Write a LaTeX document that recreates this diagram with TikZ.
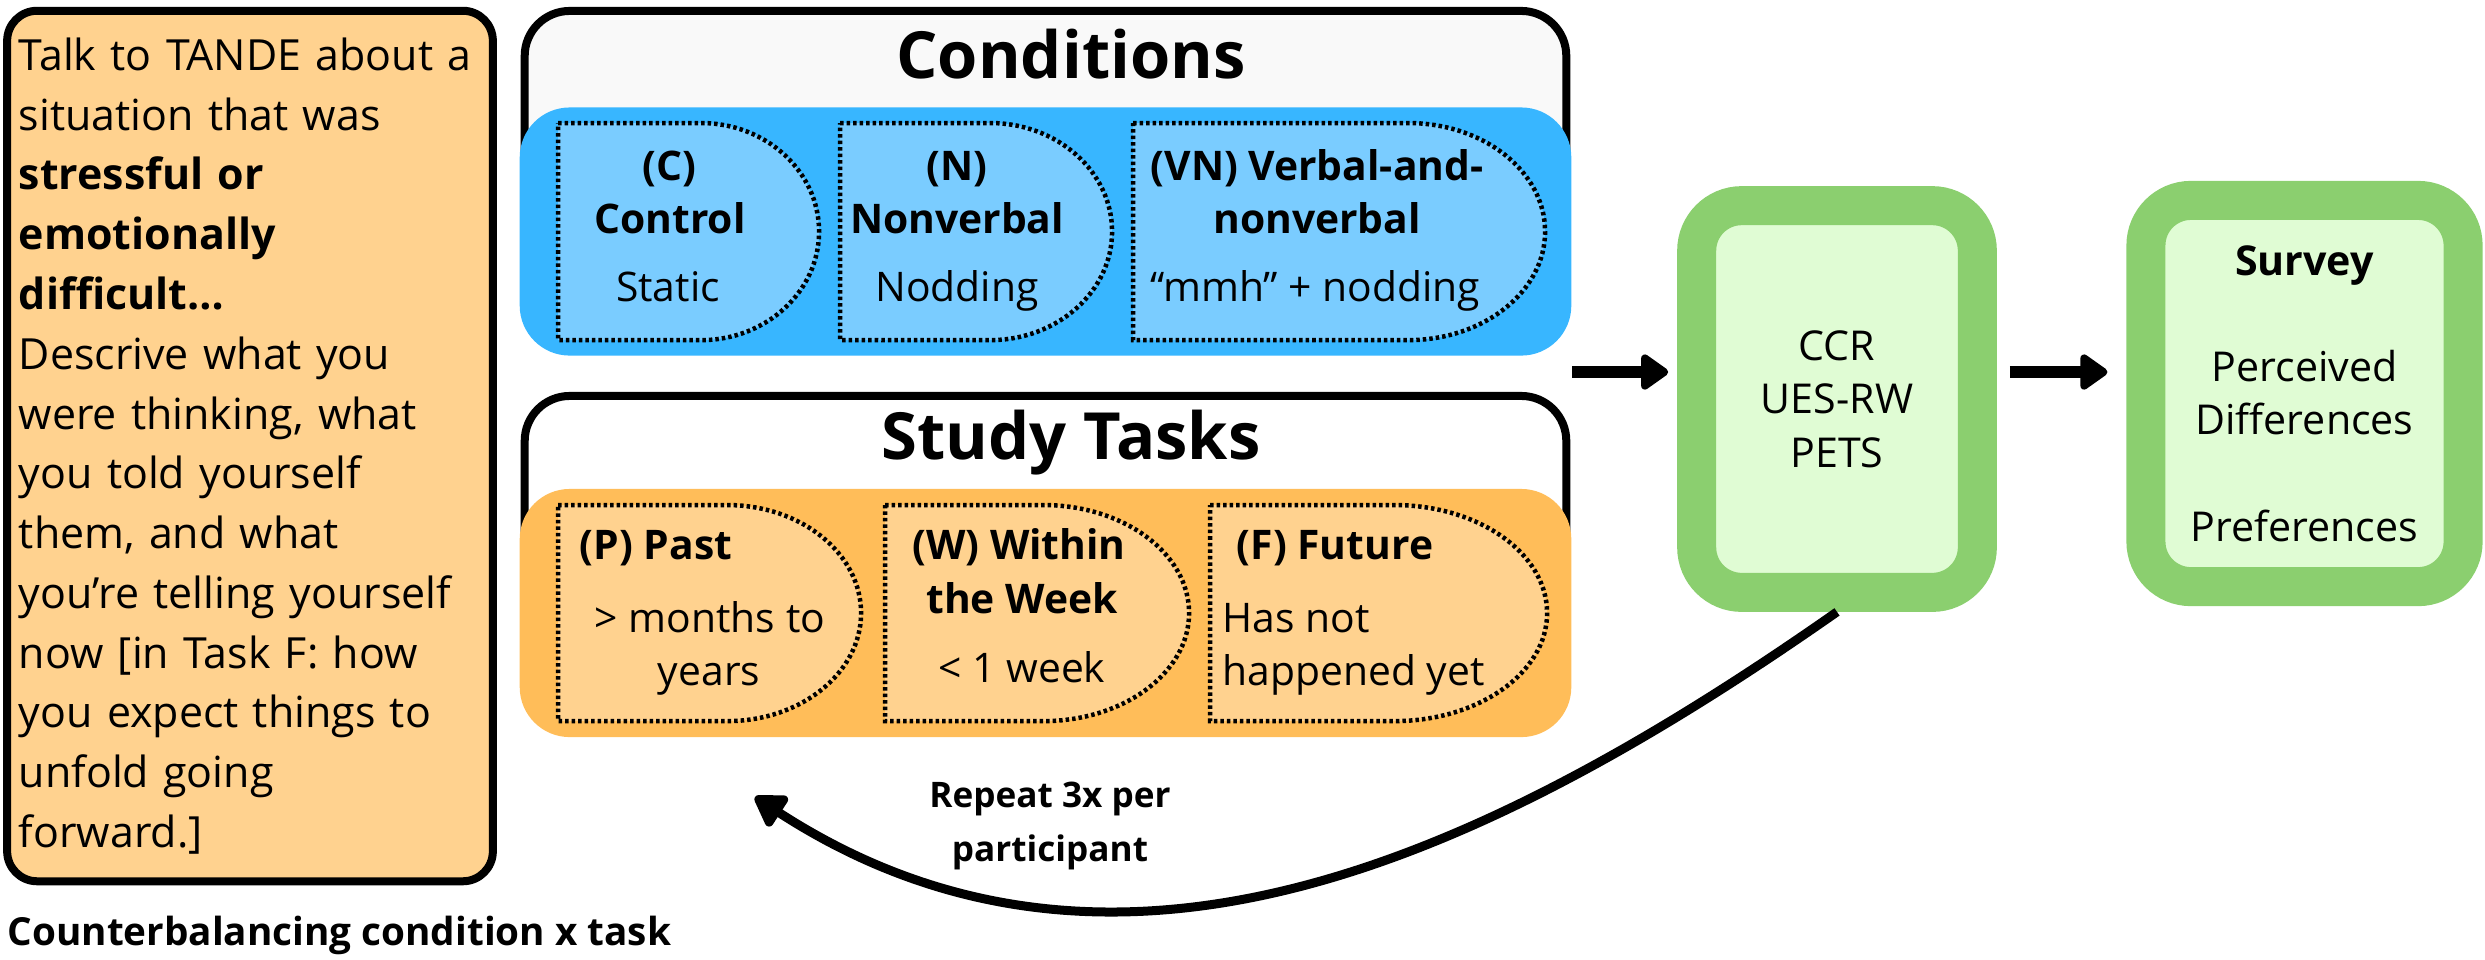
\documentclass[tikz,border=0pt]{standalone}
\usepackage{fontspec}
\setmainfont{Open Sans}
\definecolor{paleorange}{RGB}{255,210,143}
\definecolor{taskorange}{RGB}{255,189,89}
\definecolor{condblue}{RGB}{56,182,255}
\definecolor{paleblue}{RGB}{122,204,255}
\definecolor{condgray}{RGB}{249,249,249}
\definecolor{boxgreen}{RGB}{139,207,111}
\definecolor{palegreen}{RGB}{224,252,212}
\usetikzlibrary{
  arrows.meta,
  positioning,
}
\tikzset{
  groupbox/.style={draw, line width=0.08cm, rounded corners=0.45cm, minimum width=10.41cm},
  band/.style={rounded corners=0.5cm, minimum width=10.51cm, minimum height=2.48cm},
  optshape/.style={draw, dash pattern=on 0.035cm off 0.03cm, line width=0.045cm},
  grouptitle/.style={font=\bfseries\fontsize{18.5}{22}\selectfont, anchor=base},
  optlabel/.style={font=\bfseries\fontsize{11.6}{14}\selectfont, anchor=base},
  optnote/.style={font=\fontsize{11.6}{14}\selectfont, anchor=base},
  measurebox/.style={draw=boxgreen, fill=palegreen, line width=0.39cm, rounded corners=0.45cm, align=center, font=\fontsize{11.7}{15.2}\selectfont},
  fatarrow/.style={-{Triangle[length=0.3cm,width=0.4cm,round]}, line width=0.12cm},
}

\begin{document}
\begin{tikzpicture}[x=0.01cm, y=0.01cm]
  \useasboundingbox (0,0) rectangle (2485,-959);

  \node[draw, line width=0.08cm, rounded corners=0.3cm, fill=paleorange, minimum width=4.82cm, minimum height=8.7cm, text width=4.62cm, align=left, font=\fontsize{12.2}{17}\selectfont] (prompt) at (250,-446) {Talk to TANDE about a\\ situation that was\\ \textbf{stressful or}\\ \textbf{emotionally}\\ \textbf{difficult…}\\ Descrive what you\\ were thinking, what\\ you told yourself\\ them, and what\\ you’re telling yourself\\ now [in Task F: how\\ you expect things to\\ unfold going\\ forward.]};
  \node[font=\bfseries\fontsize{11}{13}\selectfont, anchor=base west, inner sep=0pt] (balance) at (7,-945) {Counterbalancing condition x task};

  \node[groupbox, fill=condgray, minimum height=2.89cm] (condbox) at (1045.5,-155.5) {};
  \node[band, fill=condblue] (condband) at (1045.5,-231.5) {};
  \node[grouptitle] (condtitle) at (1071,-78) {Conditions};

  \draw[optshape, fill=paleblue] (558,-123) -- (701,-123) arc[start angle=90, end angle=-90, x radius=1.18cm, y radius=1.085cm] -- (558,-340) -- cycle;
  \draw[optshape, fill=paleblue] (840,-123) -- (990,-123) arc[start angle=90, end angle=-90, x radius=1.22cm, y radius=1.085cm] -- (840,-340) -- cycle;
  \draw[optshape, fill=paleblue] (1133,-123) -- (1408,-123) arc[start angle=90, end angle=-90, x radius=1.37cm, y radius=1.085cm] -- (1133,-340) -- cycle;

  \node[optlabel] (ctrltag) at (669,-180) {(C)};
  \node[optlabel] (ctrlname) at (670,-233) {Control};
  \node[optnote] (ctrlnote) at (668,-301) {Static};
  \node[optlabel] (nonverbtag) at (957,-180) {(N)};
  \node[optlabel] (nonverbname) at (957,-233) {Nonverbal};
  \node[optnote] (nonverbnote) at (957,-301) {Nodding};
  \node[optlabel] (verbnontag) at (1317,-180) {(VN) Verbal-and-};
  \node[optlabel] (verbnonname) at (1317,-233) {nonverbal};
  \node[optnote] (verbnonnote) at (1315,-301) {“mmh” + nodding};

  \node[groupbox, fill=white, minimum height=2.54cm] (taskbox) at (1045.5,-523) {};
  \node[band, fill=taskorange] (taskband) at (1045.5,-613) {};
  \node[grouptitle] (tasktitle) at (1071,-459) {Study Tasks};

  \draw[optshape, fill=paleorange] (558,-505) -- (727,-505) arc[start angle=90, end angle=-90, x radius=1.34cm, y radius=1.08cm] -- (558,-721) -- cycle;
  \draw[optshape, fill=paleorange] (885,-505) -- (1043,-505) arc[start angle=90, end angle=-90, x radius=1.46cm, y radius=1.08cm] -- (885,-721) -- cycle;
  \draw[optshape, fill=paleorange] (1210,-505) -- (1394,-505) arc[start angle=90, end angle=-90, x radius=1.53cm, y radius=1.08cm] -- (1210,-721) -- cycle;

  \node[optlabel] (pasttag) at (656,-559) {(P) Past};
  \node[optnote] (pastnote) at (710,-632) {> months to};
  \node[optnote] (pastnotetwo) at (709,-685) {years};
  \node[optlabel] (weektag) at (1019,-559) {(W) Within};
  \node[optlabel] (weekname) at (1022,-613) {the Week};
  \node[optnote] (weeknote) at (1022,-682) {< 1 week};
  \node[optlabel] (futuretag) at (1335,-559) {(F) Future};
  \node[optnote, anchor=base west, inner sep=0pt] (futurenote) at (1222,-632) {Has not};
  \node[optnote, anchor=base west, inner sep=0pt] (futurenotetwo) at (1222,-685) {happened yet};

  \node[measurebox, minimum width=2.805cm, minimum height=3.865cm] (measures) at (1837,-399) {CCR\\UES-RW\\PETS};
  \node[measurebox, minimum width=3.17cm, minimum height=3.86cm] (survey) at (2304.5,-393.5) {\textbf{Survey}\\[0.53cm]Perceived\\Differences\\[0.53cm]Preferences};

  \coordinate (arrowrow) at (0,-372);
  \draw[fatarrow, shorten >=0.09cm] (condband.east |- arrowrow) -- (measures.west |- arrowrow);
  \draw[fatarrow, shorten <=0.13cm, shorten >=0.19cm] (measures.east |- arrowrow) -- (survey.west |- arrowrow);

  \coordinate (repeatend) at (755,-797);
  \draw[line width=0.09cm, -{Triangle[length=0.34cm,width=0.4cm,round]}] (measures.south) to[out=215, in=-33] (repeatend);
  \node[font=\bfseries\fontsize{10}{15.6}\selectfont, align=center] (repeatnote) at (1050,-826) {Repeat 3x per\\participant};

\end{tikzpicture}
\end{document}
